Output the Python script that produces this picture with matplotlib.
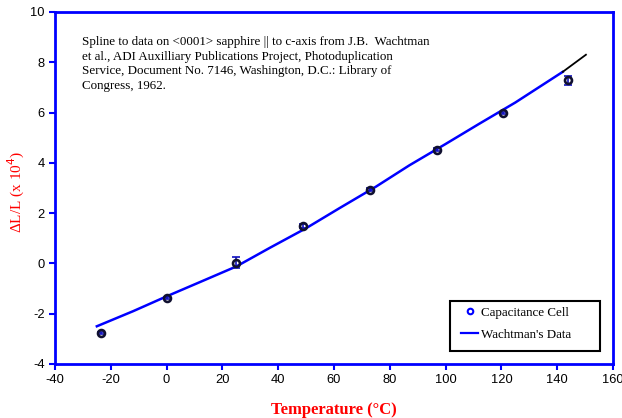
import matplotlib
matplotlib.use("Agg")
import matplotlib.pyplot as plt
from matplotlib.lines import Line2D
from matplotlib.patches import Rectangle

plt.rcParams["axes.unicode_minus"] = False

# Capacitance cell data
temp_c = [-23.6, 0.2, 24.8, 48.8, 72.9, 96.8, 120.5, 143.8]
dl_l = [-2.77, -1.38, 0.03, 1.48, 2.94, 4.52, 5.98, 7.28]
dl_err = [0.03, 0.05, 0.23, 0.08, 0.05, 0.06, 0.05, 0.18]

# Wachtman's spline
w_temp = [-25, -12, 0, 12, 25, 37, 50, 62, 75, 87, 100, 112, 125, 142]
w_dl = [-2.5, -1.9, -1.31, -0.74, -0.12, 0.62, 1.4, 2.2, 3.05, 3.9, 4.75, 5.55, 6.4, 7.62]
w_ext_temp = [142, 150.3]
w_ext_dl = [7.62, 8.3]

xticks = [-40, -20, 0, 20, 40, 60, 80, 100, 120, 140, 160]
yticks = [-4, -2, 0, 2, 4, 6, 8, 10]

note = ("Spline to data on <0001> sapphire || to c-axis from J.B.  Wachtman\n"
        "et al., ADI Auxilliary Publications Project, Photoduplication\n"
        "Service, Document No. 7146, Washington, D.C.: Library of\n"
        "Congress, 1962.")

fig = plt.figure(figsize=(6.22, 4.18), dpi=100)
ax = fig.add_axes([0.0884, 0.1292, 0.8971, 0.8421])

ax.plot(w_temp, w_dl, color="#0000ff", lw=1.8, zorder=2)
ax.plot(w_ext_temp, w_ext_dl, color="black", lw=1.3, zorder=2)
ax.errorbar(temp_c, dl_l, yerr=dl_err, fmt="none", ecolor="#1010c0",
            elinewidth=1.2, capsize=3, capthick=1.2, zorder=3)
ax.plot(temp_c, dl_l, linestyle="none", marker="o", markersize=5,
        markerfacecolor="none", markeredgecolor="#101030", markeredgewidth=1.9,
        zorder=4)

ax.set_xlim(-40, 160)
ax.set_ylim(-4, 10)
ax.set_xticks(xticks)
ax.set_yticks(yticks)
for s in ax.spines.values():
    s.set_color("#0000ff")
    s.set_linewidth(2)
ax.tick_params(axis="both", direction="out", length=4, width=1.5,
               color="#0000ff", labelsize=9.3, labelcolor="black")
for lab in ax.get_xticklabels() + ax.get_yticklabels():
    lab.set_family("Liberation Sans")

ax.set_xlabel("Temperature (°C)", color="red", fontsize=12, fontweight="bold",
              family="Liberation Serif")
ax.xaxis.set_label_coords(0.5, -0.108)
ax.set_ylabel("ΔL/L (x 10$^4$)", color="red", fontsize=11,
              family="Liberation Serif")
ax.yaxis.set_label_coords(-0.05, 0.49)

ax.text(0.048, 0.932, note, transform=ax.transAxes, ha="left", va="top",
        fontsize=9.4, family="Liberation Serif", linespacing=1.3)

ax.add_patch(Rectangle((0.708, 0.037), 0.269, 0.142, transform=ax.transAxes,
                       facecolor="white", edgecolor="black", lw=1.5, zorder=5))
handles = [
    Line2D([], [], linestyle="none", marker="o", markersize=4,
           markerfacecolor="none", markeredgecolor="#0000ff", markeredgewidth=1.5),
    Line2D([], [], color="#0000ff", lw=1.6),
]
leg = ax.legend(handles, ["Capacitance Cell", "Wachtman's Data"],
                loc="center left", bbox_to_anchor=(0.728, 0.115),
                prop={"family": "Liberation Serif", "size": 9.4},
                frameon=False, handlelength=1.3, handletextpad=0.25,
                borderpad=0, borderaxespad=0, labelspacing=0.75)
leg.set_zorder(6)

fig.savefig("out.png", dpi=100)
